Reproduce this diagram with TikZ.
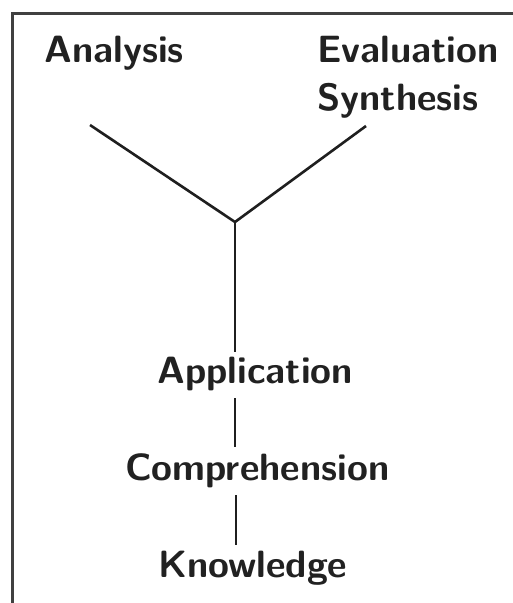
\documentclass[tikz,border=0pt]{standalone}
\usepackage{fontspec}
\begin{document}
\begin{tikzpicture}[x=1pt,y=-1pt,
  lbl/.style={anchor=base west,inner sep=0pt,text=black!87,font=\sffamily\bfseries\fontsize{38}{40}\selectfont},
  conn/.style={line width=2.6pt,draw=black!88},
  frame/.style={line width=3pt,draw=black!75}]
\useasboundingbox (0,0) rectangle (513,603);
\fill[white] (0,0) rectangle (513,603);
\draw[frame] (513,13) -- (12,13) -- (12,603);
\node[lbl] (ana) at (44,62) {Analysis};
\node[lbl] (eva) at (317,62) {Evaluation};
\node[lbl] (syn) at (317,110) {Synthesis};
\node[lbl] (app) at (157,383) {Application};
\node[lbl] (com) at (125,480) {Comprehension};
\node[lbl] (kno) at (158,577) {Knowledge};
\coordinate (la) at (90,125);
\coordinate (ra) at (366,126);
\coordinate (j) at (235,222);
\coordinate (vb) at (235,352);
\coordinate (a1) at (235,398);
\coordinate (c1) at (235,447);
\coordinate (a2) at (236,495);
\coordinate (c2) at (236,545);
\draw[conn] (la) -- (j) -- (ra);
\draw[conn] (j) -- (vb);
\draw[conn] (a1) -- (c1);
\draw[conn] (a2) -- (c2);
\end{tikzpicture}
\end{document}
